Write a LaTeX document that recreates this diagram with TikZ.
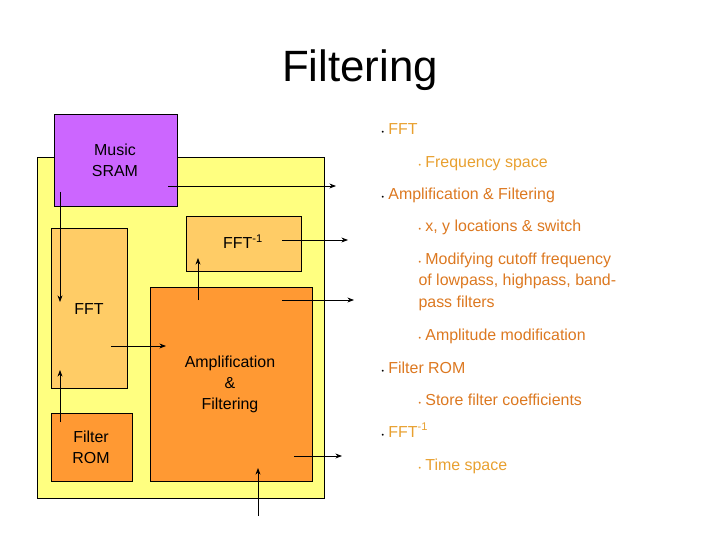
\documentclass[tikz,border=0pt]{standalone}
\usepackage{fontspec}
\setmainfont{Liberation Sans}
\usetikzlibrary{positioning, arrows.meta}
\definecolor{chip}{HTML}{FFFF80}
\definecolor{sram}{HTML}{CC66FF}
\definecolor{fftbox}{HTML}{FFCC66}
\definecolor{ampbox}{HTML}{FF9933}
\definecolor{lightor}{HTML}{E8A030}
\definecolor{darkor}{HTML}{DC7820}
\newcommand{\bul}{{\scriptsize\textbullet}\ }

\begin{document}
\begin{tikzpicture}[
    x=1bp, y=-1bp,
    font=\fontsize{16}{19}\selectfont,
    >=Stealth,
    % Styles
    block/.style={% For the boxes
        rectangle,
        draw,
        thin,
        anchor=north west,
        inner sep=0pt,
        },
    boxtext/.style={% Texts inside the boxes
        align=center,
        font=\fontsize{16}{21}\selectfont,
        },
    item/.style={% First level bullets
        anchor=base west,
        },
    subitem/.style={% Second level bullets
        anchor=base west,
        align=left,
        },
    sig/.style={% Signal arrows
        ->,
        thick,
        },
    ]
    \useasboundingbox (0,0) rectangle (720,540);

    % Title
    \node (title) at (360,70) {\fontsize{44}{50}\selectfont Filtering};

    % Draw the chip and the blocks
    \node [block, fill=chip, minimum width=287bp, minimum height=341bp] (chip) at (37,157) {};
    \node [block, fill=sram, minimum width=123bp, minimum height=92bp] (sram) at (54,114) {};
    \node [block, fill=fftbox, minimum width=76bp, minimum height=160bp] (fft) at (51,228) {};
    \node [block, fill=fftbox, minimum width=115bp, minimum height=55bp] (ifft) at (186,216) {};
    \node [block, fill=ampbox, minimum width=162bp, minimum height=194bp] (amp) at (150,287) {};
    \node [block, fill=ampbox, minimum width=81bp, minimum height=68bp] (rom) at (51,413) {};

    % Texts of the blocks
    \node [boxtext] (sramtxt) at (115,160) {Music\\SRAM};
    \node [boxtext] (ffttxt) at (89,309) {FFT};
    \node [boxtext] (iffttxt) at (243,242) {FFT\textsuperscript{-1}};
    \node [boxtext] (amptxt) at (230,384) {Amplification\\\&\\Filtering};
    \node [boxtext] (romtxt) at (91,447) {Filter\\ROM};

    % End points of the connectors
    \coordinate (s1) at (60,192);   \coordinate (e1) at (60,302);
    \coordinate (s2) at (111,346);  \coordinate (e2) at (166,346);
    \coordinate (s3) at (60,422);   \coordinate (e3) at (60,370);
    \coordinate (s4) at (198,300);  \coordinate (e4) at (198,258);
    \coordinate (in) at (258,516);  \coordinate (e5) at (258,468);
    \coordinate (o1s) at (168,186);  \coordinate (o1e) at (336,186);
    \coordinate (o2s) at (282,240);  \coordinate (o2e) at (348,240);
    \coordinate (o3s) at (282,300);  \coordinate (o3e) at (354,300);
    \coordinate (o4s) at (294,456);  \coordinate (o4e) at (342,456);

    % Internal
    \draw [sig] (s1) -- (e1);
    \draw [sig] (s2) -- (e2);
    \draw [sig] (s3) -- (e3);
    \draw [sig] (s4) -- (e4);
    \draw [sig] (in) -- (e5);

    % Outputs
    \draw [sig] (o1s) -- (o1e);
    \draw [sig] (o2s) -- (o2e);
    \draw [sig] (o3s) -- (o3e);
    \draw [sig] (o4s) -- (o4e);

    % Bullet list
    \node [item] (b1) at (378,135) {\bul\textcolor{lightor}{FFT}};
    \node [subitem] (b11) at (415,168) {\textcolor{lightor}{\bul Frequency space}};
    \node [item] (b2) at (378,200) {\bul\textcolor{darkor}{Amplification \& Filtering}};
    \node [subitem] (b21) at (415,232) {\textcolor{darkor}{\bul x, y locations \& switch}};
    \node [subitem] (b22) at (415,265) {\textcolor{darkor}{\bul Modifying cutoff frequency}};
    \node [subitem] (b22b) at (415,286) {\textcolor{darkor}{of lowpass, highpass, band-}};
    \node [subitem] (b22c) at (415,307) {\textcolor{darkor}{pass filters}};
    \node [subitem] (b23) at (415,340) {\textcolor{darkor}{\bul Amplitude modification}};
    \node [item] (b3) at (378,373) {\bul\textcolor{darkor}{Filter ROM}};
    \node [subitem] (b31) at (415,405) {\textcolor{darkor}{\bul Store filter coefficients}};
    \node [item] (b4) at (378,437) {\bul\textcolor{lightor}{FFT\textsuperscript{-1}}};
    \node [subitem] (b41) at (415,470) {\textcolor{lightor}{\bul Time space}};
\end{tikzpicture}
\end{document}
